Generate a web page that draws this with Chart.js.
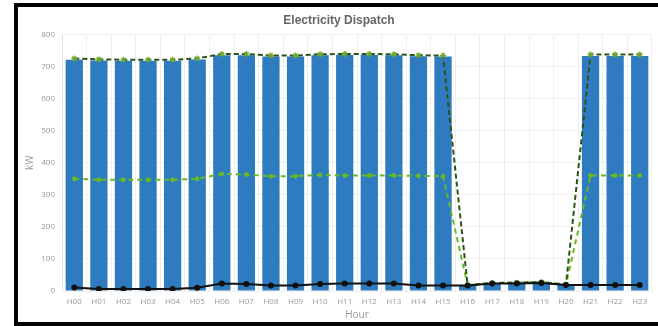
<!DOCTYPE html>
<html>
<head>
<meta charset="utf-8">
<script src="https://cdn.jsdelivr.net/npm/chart.js@4/dist/chart.umd.min.js"></script>
<style>
  html, body { margin: 0; padding: 0; background: #fff; }
  #wrap { position: relative; width: 658px; height: 326px; overflow: hidden; }
  #myChart { position: absolute; left: 0; top: 0; }
  #frame {
    position: absolute; left: 14px; top: 3px; width: 660px; height: 315px;
    border-left: 4px solid #000; border-top: 4px solid #000; border-bottom: 4px solid #000;
    pointer-events: none;
  }
</style>
</head>
<body>
<div id="wrap">
  <canvas id="myChart" width="658" height="326"></canvas>
  <div id="frame"></div>
</div>
<script>
// data
const hours = ['H00','H01','H02','H03','H04','H05','H06','H07','H08','H09','H10','H11',
               'H12','H13','H14','H15','H16','H17','H18','H19','H20','H21','H22','H23'];
const dispatch = [721,719,718,718,718,722,735,735,731,731,735,736,736,735,732,731,18,24,25,27,20,733,733,733];
const demand   = [725,722,721,721,721,725,739,739,734,734,738,739,739,738,735,734,18,25,26,28,20,737,737,737];
const halfLoad = [350,347,347,347,347,350,365,363,358,358,362,360,360,360,359,358,18,25,26,28,20,360,360,360];
const baseLoad = [11,6,6,6,6,10,23,22,17,17,22,23,23,23,17,17,17,23,23,25,19,19,19,19];
const yTicks = [0,100,200,300,400,500,600,700,800];

const tickFont = { family: 'Open Sans', size: 8 };
const titleFont = { family: 'Open Sans', size: 10 };

const ctx = document.getElementById('myChart').getContext('2d');
new Chart(ctx, {
  type: 'bar',
  data: {
    labels: hours,
    datasets: [
      {
        type: 'line', label: 'Demand', data: demand, order: 2,
        borderColor: '#2b5518', borderWidth: 2, borderDash: [5, 3],
        pointStyle: 'star', pointRadius: 3, pointBorderColor: '#6fa82e',
        pointBackgroundColor: '#6fa82e', pointBorderWidth: 1.2, tension: 0
      },
      {
        type: 'line', label: 'Half', data: halfLoad, order: 3,
        borderColor: '#66bb22', borderWidth: 2, borderDash: [5, 4],
        pointStyle: 'star', pointRadius: 2.5, pointBorderColor: '#66bb22',
        pointBackgroundColor: '#66bb22', pointBorderWidth: 1.2, tension: 0
      },
      {
        type: 'line', label: 'Base', data: baseLoad, order: 1,
        borderColor: '#111', borderWidth: 2,
        pointRadius: 2, pointBackgroundColor: '#111', pointBorderColor: '#111', tension: 0
      },
      {
        label: 'Dispatch', data: dispatch, order: 10,
        backgroundColor: '#2f7bbf', barPercentage: 0.9, categoryPercentage: 0.78
      }
    ]
  },
  options: {
    responsive: false,
    animation: false,
    layout: { padding: { left: 24, right: 4, top: 0, bottom: 5 } },
    plugins: {
      legend: { display: false },
      tooltip: { enabled: false },
      title: {
        display: true, text: 'Electricity Dispatch', color: '#666',
        font: { family: 'Liberation Sans', size: 12, weight: 'bold' },
        padding: { top: 13, bottom: 7 }
      }
    },
    scales: {
      x: {
        grid: { color: '#efefef', drawTicks: false, offset: true },
        border: { display: false },
        ticks: { color: '#999', font: tickFont, padding: 6, maxRotation: 0, autoSkip: false },
        title: { display: true, text: 'Hour', color: '#999', font: titleFont, padding: { top: 0, bottom: 0 } },
        afterFit: (s) => { s.height = 30; }
      },
      y: {
        min: 0, max: 800,
        afterBuildTicks: (s) => { s.ticks = yTicks.map(v => ({ value: v })); },
        grid: { color: '#efefef', drawTicks: false },
        border: { color: '#e4e4e4' },
        ticks: { color: '#999', font: tickFont, padding: 7 },
        title: { display: true, text: 'kW', color: '#999', font: titleFont, padding: 0 },
        afterFit: (s) => { s.width = 38; }
      }
    }
  }
});
</script>
</body>
</html>
